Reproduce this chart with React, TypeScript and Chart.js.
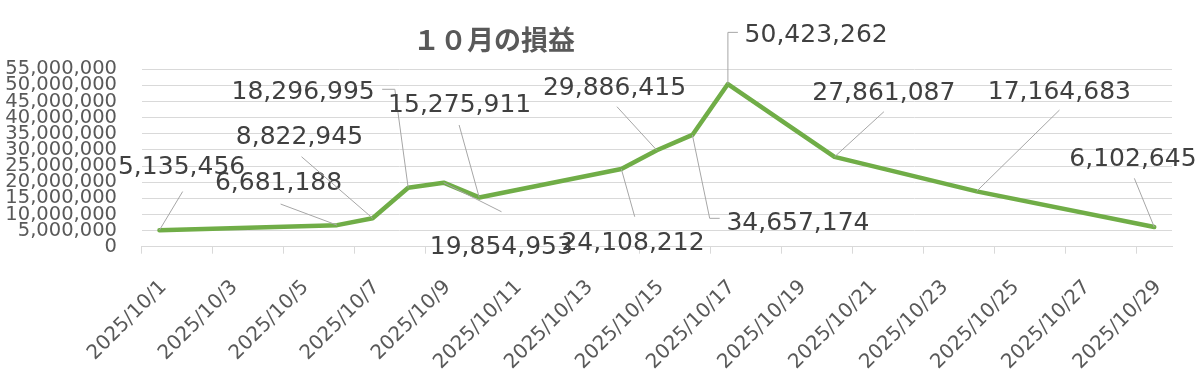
import React, { useEffect, useRef } from "react";
import { Chart, registerables } from "chart.js";

Chart.register(...registerables);

// Category axis: every day of October shown on the date axis
const categories = [
  "2025/10/1", "2025/10/2", "2025/10/3", "2025/10/4", "2025/10/5", "2025/10/6",
  "2025/10/7", "2025/10/8", "2025/10/9", "2025/10/10", "2025/10/11", "2025/10/12",
  "2025/10/13", "2025/10/14", "2025/10/15", "2025/10/16", "2025/10/17", "2025/10/18",
  "2025/10/19", "2025/10/20", "2025/10/21", "2025/10/22", "2025/10/23", "2025/10/24",
  "2025/10/25", "2025/10/26", "2025/10/27", "2025/10/28", "2025/10/29",
];

// Dates that carry a value
const pointDates = [
  "2025/10/1", "2025/10/6", "2025/10/7", "2025/10/8", "2025/10/9", "2025/10/10",
  "2025/10/14", "2025/10/15", "2025/10/16", "2025/10/17", "2025/10/20", "2025/10/24",
  "2025/10/29",
];

// 損益 values
const profitValues = [
  5135456, 6681188, 8822945, 18296995, 19854953, 15275911,
  24108212, 29886415, 34657174, 50423262, 27861087, 17164683,
  6102645,
];

// Y tick values
const yTickValues = [
  0, 5000000, 10000000, 15000000, 20000000, 25000000, 30000000,
  35000000, 40000000, 45000000, 50000000, 55000000,
];

const titleText = "１０月の損益";

// Data-label placement (offset of text left / digit-centre from the point), in px
const labelOffsets: number[][] = [
  [-41.5, -65.4], [-122.2, -43.8], [-136.8, -83.2], [-176.6, -97.7], [-13.9, 62.1],
  [-91.1, -94.9], [-59.9, 71.6], [-113.9, -64.8], [34, 86.1], [16.7, -50.7],
  [-22.2, -66], [11.2, -101.8], [-84.9, -70.3],
];

// Leader-line vertices (relative to the point), in px
const leaderPaths: number[][][] = [
  [[23.2, -38.6]],
  [[-56.5, -21.1]],
  [[-71.1, -61.5]],
  [[-13.3, -98.4], [-26, -98.4]],
  [[57.8, 29.1]],
  [[-20.1, -72.4]],
  [[13.4, 47.8]],
  [[-39.9, -43.6]],
  [[17.3, 83.4], [27.3, 83.4]],
  [[0, -51.7], [10, -51.7]],
  [[49.4, -45.1]],
  [[82.9, -81.3]],
  [[-19.9, -48.7]],
];

const fmt = (v: number) => v.toLocaleString("en-US");

const dataLabelPlugin = {
  id: "excelDataLabels",
  afterDatasetsDraw(chart: any) {
    const ctx = chart.ctx;
    const meta = chart.getDatasetMeta(0);
    ctx.save();
    meta.data.forEach((pt: any, i: number) => {
      const px = pt.x;
      const py = pt.y;
      // leader line
      ctx.beginPath();
      ctx.strokeStyle = "#A6A6A6";
      ctx.lineWidth = 1;
      ctx.moveTo(px, py);
      leaderPaths[i].forEach((p) => ctx.lineTo(px + p[0], py + p[1]));
      ctx.stroke();
      // label
      ctx.fillStyle = "#404040";
      ctx.font = '25px "DejaVu Sans"';
      ctx.textAlign = "left";
      ctx.textBaseline = "alphabetic";
      ctx.fillText(fmt(profitValues[i]), px + labelOffsets[i][0], py + labelOffsets[i][1] + 9.1);
    });
    ctx.restore();
  },
  afterDraw(chart: any) {
    const ctx = chart.ctx;
    ctx.save();
    ctx.fillStyle = "#595959";
    ctx.font = 'bold 27px "Noto Sans CJK JP"';
    ctx.textAlign = "center";
    ctx.textBaseline = "middle";
    ctx.fillText(titleText, 494, 39.5);
    ctx.restore();
  },
};

export default function App() {
  const canvasRef = useRef<HTMLCanvasElement | null>(null);

  useEffect(() => {
    if (!canvasRef.current) return;
    const chart = new Chart(canvasRef.current, {
      type: "line",
      data: {
        labels: categories,
        datasets: [
          {
            label: "損益",
            data: pointDates.map((d, i) => ({ x: d, y: profitValues[i] })) as any,
            borderColor: "#70AD47",
            backgroundColor: "#70AD47",
            borderWidth: 4.5,
            pointRadius: 0,
            pointHoverRadius: 0,
            tension: 0,
            borderJoinStyle: "round",
            borderCapStyle: "round",
          },
        ],
      },
      options: {
        animation: false,
        responsive: false,
        devicePixelRatio: 1,
        events: [],
        layout: { padding: { top: 69.3, right: 28, left: 0, bottom: 0 } },
        plugins: {
          legend: { display: false },
          title: { display: false },
          tooltip: { enabled: false },
        },
        scales: {
          x: {
            type: "category",
            offset: true,
            grid: {
              offset: true,
              drawOnChartArea: false,
              drawTicks: true,
              tickLength: 7,
              tickWidth: 1,
              tickColor: (c: any) =>
                typeof c.index === "number" && c.index % 2 === 0 ? "#D9D9D9" : "rgba(0,0,0,0)",
            },
            border: { display: true, color: "#D9D9D9", width: 1 },
            ticks: {
              autoSkip: false,
              maxRotation: 45,
              minRotation: 45,
              padding: 22,
              labelOffset: 4,
              color: "#595959",
              font: { family: '"DejaVu Sans"', size: 20 },
              callback: (_v: any, i: number) => (i % 2 === 0 ? categories[i] : ""),
            },
            afterFit: (s: any) => {
              s.height = 374 - 246.7;
            },
          },
          y: {
            type: "linear",
            min: 0,
            max: 55000000,
            grid: { color: "#D9D9D9", lineWidth: 1, drawTicks: false },
            border: { display: false },
            ticks: {
              autoSkip: false,
              padding: 24.7,
              color: "#595959",
              font: { family: '"DejaVu Sans"', size: 19.5, lineHeight: 1 },
              callback: (v: any) => fmt(Number(v)),
            },
            afterBuildTicks: (s: any) => {
              s.ticks = yTickValues.map((v) => ({ value: v }));
            },
            afterFit: (s: any) => {
              s.width = 141.7;
            },
          },
        },
      },
      plugins: [dataLabelPlugin],
    });
    return () => chart.destroy();
  }, []);

  return (
    <div style={{ position: "fixed", left: 0, top: 0, width: 1200, height: 374, background: "#fff" }}>
      <canvas ref={canvasRef} width={1200} height={374} style={{ display: "block" }} />
    </div>
  );
}
